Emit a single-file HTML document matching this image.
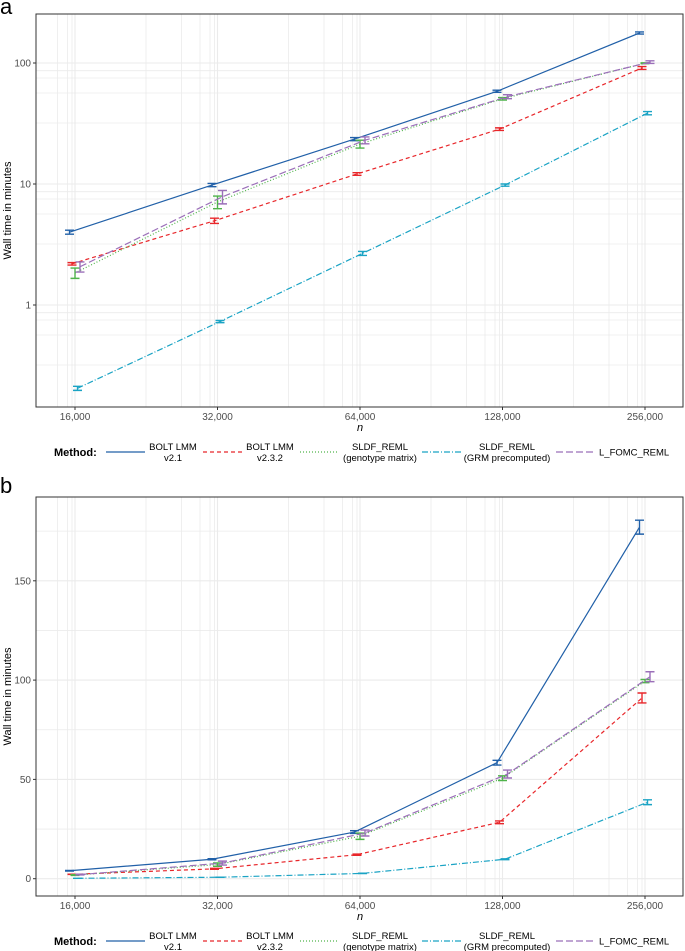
<!DOCTYPE html>
<html><head><meta charset="utf-8"><style>
html,body{margin:0;padding:0;background:#fff}
svg{display:block;font-family:"Liberation Sans",Arial,sans-serif}
</style></head><body>
<svg id="fig" width="685" height="951" viewBox="0 0 685 951" xmlns="http://www.w3.org/2000/svg"></svg>
<script>
const categories = [16000, 32000, 64000, 128000, 256000];
const xTickLabels = ["16,000", "32,000", "64,000", "128,000", "256,000"];
const seriesNames = ["BOLT LMM v2.1", "BOLT LMM v2.3.2", "SLDF_REML (genotype matrix)", "SLDF_REML (GRM precomputed)", "L_FOMC_REML"];
const boltV21 = [4.0, 9.8, 23.5, 58.4, 177];
const boltV232 = [2.19, 4.97, 12.1, 28.4, 91];
const sldfGeno = [1.84, 7.1, 21.4, 50.6, 99.5];
const sldfGrm = [0.205, 0.73, 2.67, 9.8, 38.5];
const lFomc = [2.07, 7.85, 23, 52.7, 101.7];
const boltV21Err = [0.15, 0.3, 0.7, 1.2, 3.5];
const boltV232Err = [0.05, 0.25, 0.3, 0.7, 2.5];
const sldfGenoErr = [0.18, 0.85, 1.6, 1.2, 0.8];
const sldfGrmErr = [0.008, 0.015, 0.1, 0.2, 1.2];
const lFomcErr = [0.2, 1.0, 1.5, 2.0, 2.5];
const logTicks = [1, 10, 100];
const logTickLabels = ["1", "10", "100"];
const linTicks = [0, 50, 100, 150];
const linTickLabels = ["0", "50", "100", "150"];

const NS = "http://www.w3.org/2000/svg";
const svg = document.getElementById("fig");
const series = [
  {vals: boltV21, err: boltV21Err, color: "#2160a8", dash: "", key: "bolt-v21"},
  {vals: boltV232, err: boltV232Err, color: "#e8262a", dash: "4,3", key: "bolt-v232"},
  {vals: sldfGeno, err: sldfGenoErr, color: "#4fb34a", dash: "1,2", key: "sldf-geno"},
  {vals: sldfGrm, err: sldfGrmErr, color: "#1aa3c4", dash: "6,2,1,2", key: "sldf-grm"},
  {vals: lFomc, err: lFomcErr, color: "#9b6fb9", dash: "7,3", key: "l-fomc"}
];
const dodge = [-5.5, -3, 0, 2.5, 5];

function el(tag, attrs, parent) {
  const e = document.createElementNS(NS, tag);
  for (const k in attrs) e.setAttribute(k, attrs[k]);
  (parent || svg).appendChild(e);
  return e;
}
function xScale(n) { return 75 + Math.log2(n / 16000) * 142.5; }

function panel(cfg) {
  const g = el("g", {});
  
  
  const L = 36, R = 683, T = cfg.top, B = cfg.bottom;
  const pl = el("text", {x: 0, y: cfg.labelY, "font-size": 22, fill: "#000"}, g);
  pl.textContent = cfg.label;
  
  
  const grid = el("g", {stroke: "#ebebeb", "stroke-width": 0.8}, g);
  
  
  cfg.minorY.forEach(y => { if (y > T && y < B) el("line", {x1: L, x2: R, y1: y, y2: y}, grid); });
  cfg.majorY.forEach(y => el("line", {x1: L, x2: R, y1: y, y2: y, "stroke-width": 1.1}, grid));
  const vOff = [-17.5, -7.5, -3, 71, 106.5];
  categories.forEach(c => {
    const x = xScale(c);
    vOff.forEach(o => { const xx = x + o; if (xx > L && xx < R) el("line", {x1: xx, x2: xx, y1: T, y2: B}, grid); });
    el("line", {x1: x, x2: x, y1: T, y2: B, "stroke-width": 1.1}, grid);
  });
  series.forEach((s, si) => {
    const sg = el("g", {}, g);
    
    
    const pts = s.vals.map((v, i) => [xScale(categories[i]) + dodge[si], cfg.y(v)]);
    const ln = el("polyline", {points: pts.map(p => p.join(",")).join(" "), fill: "none", stroke: s.color, "stroke-width": 1.2, "stroke-dasharray": s.dash}, sg);
    
    
    s.vals.forEach((v, i) => {
      const x = pts[i][0];
      const y1 = cfg.y(v - s.err[i]), y2 = cfg.y(v + s.err[i]);
      const eb = el("path", {d: `M${x-4.5},${y1}H${x+4.5}M${x},${y1}V${y2}M${x-4.5},${y2}H${x+4.5}`, stroke: s.color, "stroke-width": 1.4, fill: "none"}, sg);
      
      
    });
  });
  el("rect", {x: L, y: T, width: R - L, height: B - T, fill: "none", stroke: "#333", "stroke-width": 1}, g);
  cfg.ticks.forEach((t, i) => {
    const y = cfg.y(t);
    el("line", {x1: L - 3, x2: L, y1: y, y2: y, stroke: "#333"}, g);
    const tx = el("text", {x: L - 5, y: y + 3.5, "font-size": 10, fill: "#4d4d4d", "text-anchor": "end"}, g);
    tx.textContent = cfg.tickLabels[i];
    
    
  });
  categories.forEach((c, i) => {
    const x = xScale(c);
    el("line", {x1: x, x2: x, y1: B, y2: B + 3, stroke: "#333"}, g);
    const tx = el("text", {x: x, y: B + 13, "font-size": 10, fill: "#4d4d4d", "text-anchor": "middle"}, g);
    tx.textContent = xTickLabels[i];
    
    
  });
  const xt = el("text", {x: 360, y: B + 24, "font-size": 11, "font-style": "italic", "text-anchor": "middle"}, g);
  xt.textContent = "n";
  
  
  const yt = el("text", {x: 0, y: 0, "font-size": 11, "text-anchor": "middle", transform: `translate(11,${(T + B) / 2}) rotate(-90)`}, g);
  yt.textContent = "Wall time in minutes";
  
  
  const lg = el("g", {}, g);
  
  
  const ly = cfg.legendY;
  const mt = el("text", {x: 54, y: ly + 4, "font-size": 11, "font-weight": "bold"}, lg);
  mt.textContent = "Method:";
  
  
  const keyX = [106, 203, 300, 422, 556];
  const txtX = [173, 270, 380, 507, 599];
  const lines = [["BOLT LMM", "v2.1"], ["BOLT LMM", "v2.3.2"], ["SLDF_REML", "(genotype matrix)"], ["SLDF_REML", "(GRM precomputed)"], ["L_FOMC_REML"]];
  series.forEach((s, i) => {
    const e = el("g", {}, lg);
    
    
    el("line", {x1: keyX[i], x2: keyX[i] + 39, y1: ly, y2: ly, stroke: s.color, "stroke-width": 1.3, "stroke-dasharray": s.dash}, e);
    const t = lines[i];
    if (t.length === 2) {
      const a = el("text", {x: txtX[i], y: ly - 2, "font-size": 9.5, "text-anchor": "middle"}, e); a.textContent = t[0];
      const b = el("text", {x: txtX[i], y: ly + 9, "font-size": 9.5, "text-anchor": "middle"}, e); b.textContent = t[1];
    } else {
      const a = el("text", {x: txtX[i], y: ly + 3.5, "font-size": 9.5}, e); a.textContent = t[0];
    }
  });
}

const logY = v => 184 - (Math.log10(v) - 1) * 121;
const minorOffs = [7.7, 15, 30, 60];
const minorA = [];
[1, 10, 100].forEach(t => minorOffs.forEach(o => minorA.push(logY(t) + o)));
panel({name: "panel-a-log", label: "a", labelY: 14, top: 14, bottom: 407, y: logY,
  ticks: logTicks, tickLabels: logTickLabels, majorY: logTicks.map(logY), minorY: minorA, legendY: 452});

const linY = v => 878.7 - v * 1.986;
panel({name: "panel-b-linear", label: "b", labelY: 493, top: 497, bottom: 896, y: linY,
  ticks: linTicks, tickLabels: linTickLabels, majorY: linTicks.map(linY), minorY: [25, 75, 125, 175].map(linY), legendY: 941});
</script>
</body></html>
